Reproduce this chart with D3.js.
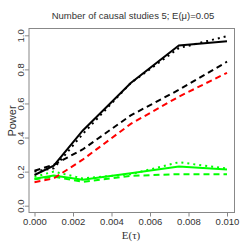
<!DOCTYPE html>
<html>
<head>
<meta charset="utf-8">
<script src="https://cdn.jsdelivr.net/npm/d3@7"></script>
<style>
  body { margin: 0; background: #fff; }
  svg { display: block; font-family: "Liberation Sans", Arial, sans-serif; }
</style>
</head>
<body>
<svg id="chart" width="249" height="249"></svg>
<script>
// E(tau) values used in the simulation
const tauVals = [0, 0.001, 0.0025, 0.005, 0.0075, 0.01];

// power curves
const blackSolid  = [0.18, 0.235, 0.44, 0.72, 0.94, 0.965];
const blackDotted = [0.20, 0.22, 0.42, 0.72, 0.925, 0.995];
const blackDashed = [0.205, 0.24, 0.33, 0.53, 0.68, 0.845];
const redDashed   = [0.138, 0.16, 0.27, 0.48, 0.64, 0.78];
const greenSolid  = [0.158, 0.177, 0.152, 0.19, 0.23, 0.212];
const greenDotted = [0.17, 0.20, 0.16, 0.185, 0.255, 0.218];
const greenDashed = [0.155, 0.17, 0.14, 0.175, 0.185, 0.185];

const xTicks = [0, 0.002, 0.004, 0.006, 0.008, 0.010];
const yTicks = [0, 0.2, 0.4, 0.6, 0.8, 1.0];

const series = [
  {vals: greenDashed, col: "#00ff00", dash: "6,4"},
  {vals: greenDotted, col: "#00ff00", dash: "2,4"},
  {vals: greenSolid,  col: "#00ff00", dash: null},
  {vals: redDashed,   col: "#ff0000", dash: "6,4"},
  {vals: blackDashed, col: "#000000", dash: "6,4"},
  {vals: blackDotted, col: "#000000", dash: "2,4"},
  {vals: blackSolid,  col: "#000000", dash: null}
];

const svg = d3.select("#chart"),
      box = {left: 29, right: 234.5, top: 28.5, bottom: 212.5},
      x   = d3.scaleLinear().domain([0, 0.01]).range([34.5, 227]),
      y   = d3.scaleLinear().domain([-0.04, 1.04]).range([box.bottom, box.top]);

// lines
const line = d3.line().x((d, i) => x(tauVals[i])).y(d => y(d));
series.forEach(s => {
  svg.append("path")
      .datum(s.vals)
      .attr("fill", "none")
      .attr("stroke", s.col)
      .attr("stroke-width", 2)
      .attr("stroke-dasharray", s.dash)
      .attr("d", line);
});

// box
svg.append("rect")
    .attr("x", box.left).attr("y", box.top)
    .attr("width", box.right - box.left).attr("height", box.bottom - box.top)
    .attr("fill", "none").attr("stroke", "#888").attr("stroke-width", 1);

// axes
const xAxis = svg.append("g")
    .attr("transform", `translate(0,${box.bottom})`)
    .call(d3.axisBottom(x).tickValues(xTicks).tickFormat(d3.format(".3f")).tickSize(4).tickPadding(2));
const yAxis = svg.append("g")
    .attr("transform", `translate(${box.left},0)`)
    .call(d3.axisLeft(y).tickValues(yTicks).tickFormat(d3.format(".1f")).tickSize(4).tickPadding(2));

[xAxis, yAxis].forEach(a => {
  a.select(".domain").remove();
  a.selectAll("line").attr("stroke", "#888");
  a.selectAll("text").attr("fill", "#333").style("font-size", "9.5px").style("font-family", "Liberation Sans, Arial, sans-serif");
});
yAxis.selectAll("text")
    .attr("text-anchor", "middle")
    .attr("transform", "translate(-5,0) rotate(-90)")
    .attr("x", 0).attr("y", 0).attr("dy", "0");

// titles
svg.append("text")
    .attr("x", 133).attr("y", 19)
    .attr("text-anchor", "middle")
    .style("font-size", "9.5px")
    .attr("fill", "#333")
    .text("Number of causal studies 5; E(\u03bc)=0.05");

svg.append("text")
    .attr("x", 131).attr("y", 239)
    .attr("text-anchor", "middle")
    .style("font-size", "11px")
    .style("font-family", "Liberation Serif, serif")
    .attr("fill", "#333")
    .text("E(\u03c4)");

svg.append("text")
    .attr("transform", "translate(16,121) rotate(-90)")
    .attr("text-anchor", "middle")
    .style("font-size", "11px")
    .attr("fill", "#333")
    .text("Power");
</script>
</body>
</html>
